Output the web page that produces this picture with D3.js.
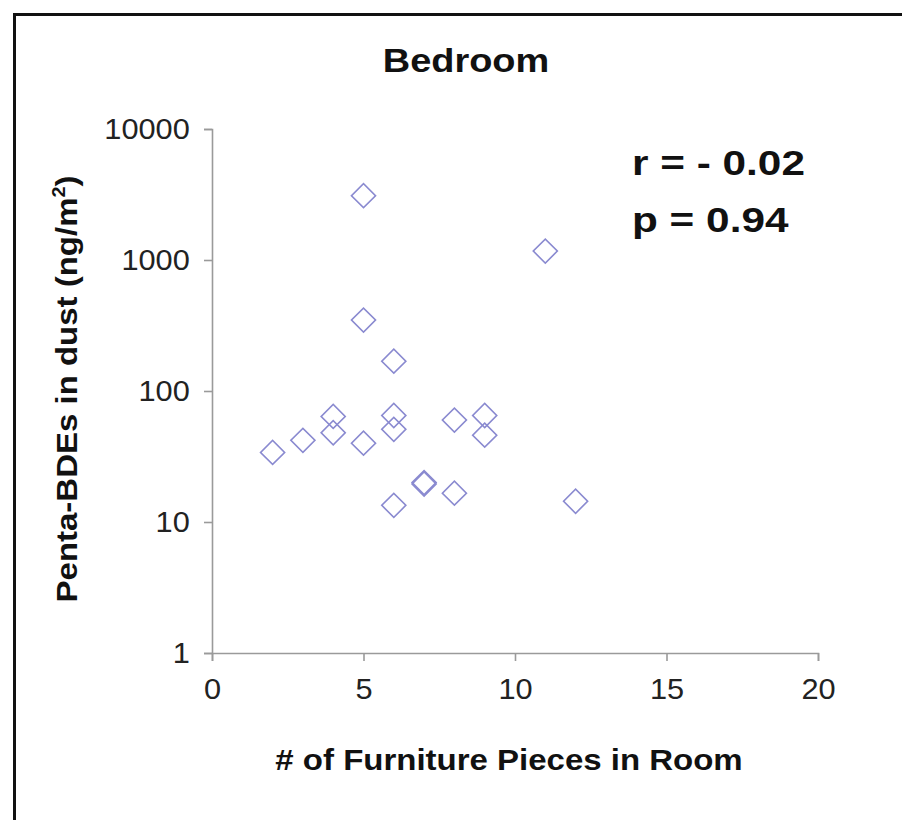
<!DOCTYPE html>
<html>
<head>
<meta charset="utf-8">
<script src="https://cdn.jsdelivr.net/npm/d3@7"></script>
<style>
  html, body { margin: 0; padding: 0; background: #fff; }
  svg { display: block; }
  text { font-family: "Liberation Sans", Arial, Helvetica, sans-serif; }
</style>
</head>
<body>
<svg id="chart" width="902" height="820"></svg>
<script>
// Furniture count per bedroom and the measured penta-BDE dust loading
const furniture = [2, 3, 4, 4, 5, 5, 5, 6, 6, 6, 6, 7, 7, 8, 8, 9, 9, 11, 12];
const pentaBDE  = [34, 42, 64, 48, 3100, 348, 40, 169, 65, 51, 13.4, 20, 19.5, 60, 16.6, 65, 46, 1170, 14.4];

const xTicks = [0, 5, 10, 15, 20];
const yTicks = [1, 10, 100, 1000, 10000];
const title = "Bedroom";
const xTitle = "# of Furniture Pieces in Room";
const statLines = ["r = - 0.02", "p = 0.94"];

const svg = d3.select("#chart");
const ink = "#111";
const axisColor = "#9a9a9a";

// Helvetica-style text, drawn slightly wide
function label(parent, str, x, y, size, opts = {}) {
  const sx = opts.sx || 1.1;
  const rot = opts.rotate ? ` rotate(${opts.rotate})` : "";
  return parent.append("text")
    .attr("transform", `translate(${x},${y})${rot} scale(${sx},1)`)
    .attr("text-anchor", opts.anchor || "middle")
    .attr("font-size", size)
    .attr("font-weight", opts.weight || "bold")
    .attr("fill", ink)
    .text(str);
}

// outer frame (runs off the right and bottom edges)
svg.append("rect")
  .attr("x", 14.5).attr("y", 14.5)
  .attr("width", 1000).attr("height", 1000)
  .attr("fill", "none").attr("stroke", "#111").attr("stroke-width", 3);

const x = d3.scaleLinear().domain([0, 20]).range([212, 818]);
const y = d3.scaleLog().domain([1, 10000]).range([653, 129]);

const tickFont = 29;
const tickSx = 1.06;

// y axis
const yAxis = svg.append("g")
  .attr("transform", `translate(${x(0)},0)`)
  .call(d3.axisLeft(y).tickValues(yTicks).tickFormat(d3.format("d")).tickSize(8).tickPadding(13));
yAxis.select(".domain").attr("stroke", axisColor).attr("stroke-width", 1.6);
yAxis.selectAll(".tick line").attr("stroke", axisColor).attr("stroke-width", 1.6);
yAxis.selectAll(".tick text")
  .attr("font-size", tickFont).attr("fill", "#222")
  .attr("font-family", "'Liberation Sans', Arial, sans-serif")
  .attr("transform", `scale(${tickSx},1)`);

// x axis
const xAxis = svg.append("g")
  .attr("transform", `translate(0,${y(1)})`)
  .call(d3.axisBottom(x).tickValues(xTicks).tickFormat(d3.format("d")).tickSize(8).tickPadding(24));
xAxis.select(".domain").attr("stroke", axisColor).attr("stroke-width", 1.6);
xAxis.selectAll(".tick line").attr("stroke", axisColor).attr("stroke-width", 1.6);
xAxis.selectAll(".tick text")
  .attr("font-size", tickFont).attr("fill", "#222")
  .attr("font-family", "'Liberation Sans', Arial, sans-serif")
  .attr("dy", "0.5em")
  .attr("transform", `scale(${tickSx},1)`);

// data markers: hollow diamonds
const diamond = d3.symbol().type(d3.symbolSquare).size(290);
svg.append("g")
  .selectAll("path")
  .data(furniture.map((f, i) => [f, pentaBDE[i]]))
  .join("path")
  .attr("d", diamond)
  .attr("transform", d => `translate(${x(d[0])},${y(d[1])}) rotate(45)`)
  .attr("fill", "none")
  .attr("stroke", "#8a8ad0")
  .attr("stroke-width", 1.6);

// titles
label(svg, title, 466, 72, 33, { sx: 1.15 });
label(svg, xTitle, 509, 770, 30, { sx: 1.1 });

const yt = label(svg, "", 77, 389, 30, { sx: 1.1, rotate: -90 });
yt.append("tspan").text("Penta-BDEs in dust (ng/m");
yt.append("tspan").attr("font-size", 18).attr("dy", -12).text("2");
yt.append("tspan").attr("dy", 12).text(")");

// correlation statistics
statLines.forEach((s, i) => label(svg, s, 632, 175 + i * 57, 35, { sx: 1.21, anchor: "start" }));
</script>
</body>
</html>
